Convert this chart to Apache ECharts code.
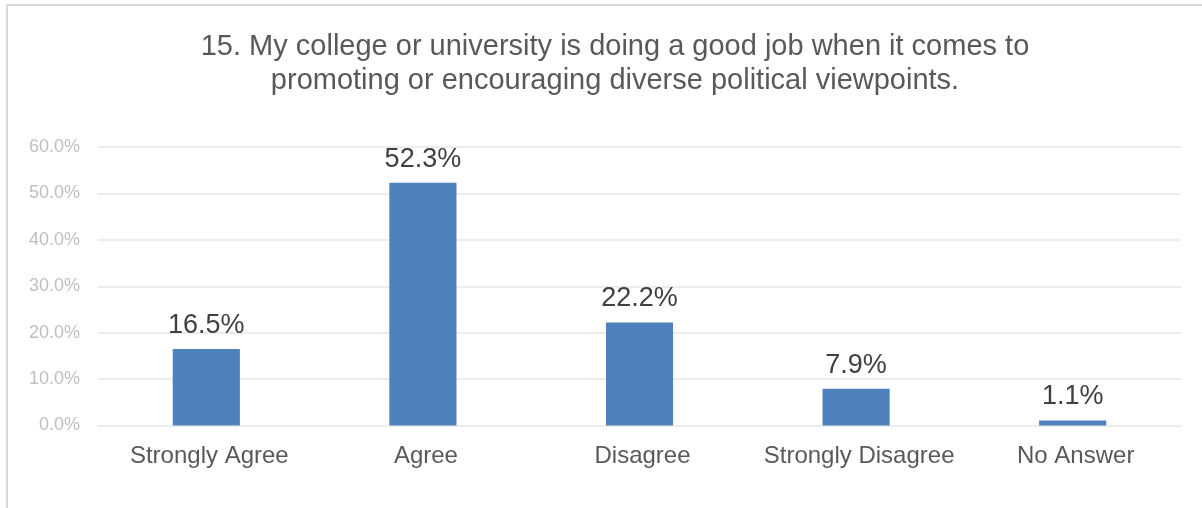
<!DOCTYPE html>
<html>
<head>
<meta charset="utf-8">
<script src="https://cdn.jsdelivr.net/npm/echarts@6/dist/echarts.min.js"></script>
<style>
html,body{margin:0;padding:0;background:#fff;overflow:hidden;}
#frame{position:absolute;left:6px;top:4px;width:1300px;height:600px;border-top:2px solid #d9d9d9;border-left:2px solid #d9d9d9;}
#chart{position:absolute;left:0;top:0;width:1202px;height:508px;}
</style>
</head>
<body>
<div id="frame"></div>
<div id="chart"></div>
<script>
const titleText = "15. My college or university is doing a good job when it comes to\npromoting or encouraging diverse political viewpoints.";
const categories = ["Strongly Agree", "Agree", "Disagree", "Strongly Disagree", "No Answer"];
const values = [16.5, 52.3, 22.2, 7.9, 1.1];
const yTicks = { min: 0, max: 60, interval: 10 };

const chart = echarts.init(document.getElementById('chart'), null, {renderer: 'canvas'});
chart.setOption({
  backgroundColor: 'transparent',
  animation: false,
  title: {
    text: titleText,
    left: 610,
    top: 25,
    textAlign: 'center',
    textStyle: {
      fontFamily: 'Liberation Sans, Arial, sans-serif',
      fontSize: 29,
      fontWeight: 'normal',
      color: '#595959',
      lineHeight: 34
    }
  },
  grid: { left: 98, right: 21, top: 147, bottom: 82.5, containLabel: false },
  xAxis: {
    type: 'category',
    data: categories,
    axisLine: { show: true, lineStyle: { color: '#ececec', width: 2 } },
    axisTick: { show: false },
    axisLabel: {
      interval: 0,
      fontFamily: 'Liberation Sans, Arial, sans-serif',
      fontSize: 24,
      color: '#595959',
      margin: 19,
      padding: [0, 0, 0, 6]
    }
  },
  yAxis: {
    type: 'value',
    min: yTicks.min, max: yTicks.max, interval: yTicks.interval,
    axisLine: { show: false },
    axisTick: { show: false },
    splitLine: { lineStyle: { color: '#ececec', width: 2 } },
    axisLabel: {
      fontFamily: 'Liberation Sans, Arial, sans-serif',
      fontSize: 18,
      color: '#bfbfbf',
      margin: 18,
      formatter: v => v.toFixed(1) + '%'
    }
  },
  series: [{
    type: 'bar',
    data: values,
    barWidth: '31%',
    itemStyle: { color: '#4f81bd' },
    label: {
      show: true,
      position: 'top',
      distance: 10,
      fontFamily: 'Liberation Sans, Arial, sans-serif',
      fontSize: 27,
      color: '#404040',
      formatter: p => p.value.toFixed(1) + '%'
    }
  }]
});
</script>
</body>
</html>
